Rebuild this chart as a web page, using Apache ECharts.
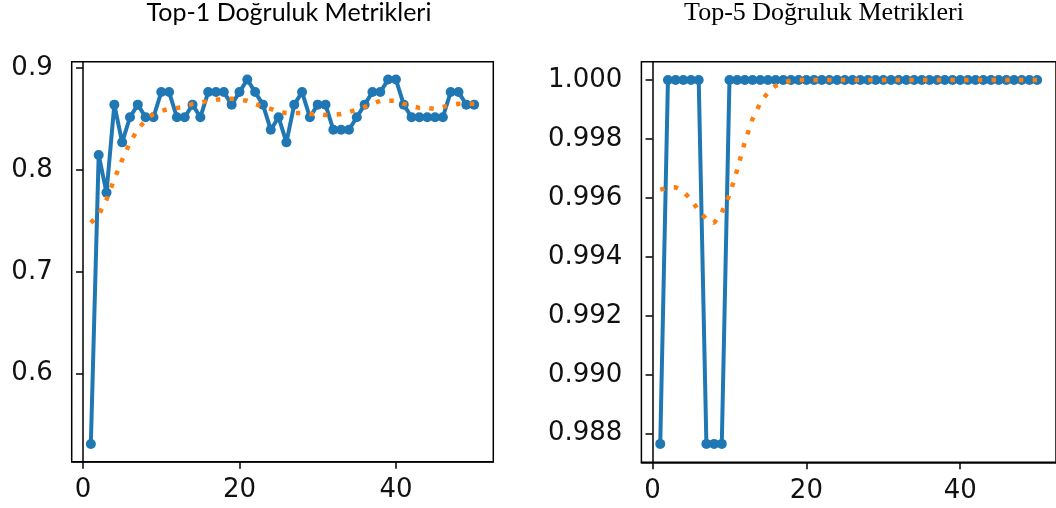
<!DOCTYPE html>
<html>
<head>
<meta charset="utf-8">
<script src="https://cdn.jsdelivr.net/npm/echarts@6/dist/echarts.min.js"></script>
<style>
html,body{margin:0;padding:0;background:#fff;}
#chart{width:1056px;height:508px;}
</style>
</head>
<body>
<div id="chart"></div>
<script>
// Epochs
const epochs = Array.from({length: 50}, (_, i) => i + 1);
// Top-1 accuracy (counts out of 81)
const top1Counts = [43,66,63,70,67,69,70,69,69,71,71,69,69,70,69,71,71,71,70,71,72,71,70,68,69,67,70,71,69,70,70,68,68,68,69,70,71,71,72,72,70,69,69,69,69,69,71,71,70,70];
const top1Values = top1Counts.map(c => c / 81);
// Top-1 smoothed (orange dotted)
const top1Smooth = [0.748,0.756,0.771,0.791,0.810,0.827,0.840,0.849,0.855,0.858,0.860,0.861,0.862,0.865,0.866,0.868,0.869,0.870,0.870,0.869,0.868,0.865,0.862,0.860,0.857,0.856,0.856,0.856,0.855,0.855,0.854,0.854,0.855,0.857,0.859,0.862,0.865,0.868,0.868,0.868,0.865,0.863,0.861,0.861,0.860,0.862,0.864,0.865,0.865,0.865];
// Top-5 accuracy
const top5Counts = [80,81,81,81,81,81,80,80,80,81,81,81,81,81,81,81,81,81,81,81,81,81,81,81,81,81,81,81,81,81,81,81,81,81,81,81,81,81,81,81,81,81,81,81,81,81,81,81,81,81];
const top5Values = top5Counts.map(c => c / 81);
// Top-5 smoothed (orange dotted)
const top5Smooth = [0.99628,0.99634,0.99636,0.99622,0.99594,0.99557,0.99528,0.99515,0.99550,0.99610,0.99695,0.99790,0.99868,0.99922,0.99958,0.99980,0.99992,0.99998,1,1,1,1,1,1,1,1,1,1,1,1,1,1,1,1,1,1,1,1,1,1,1,1,1,1,1,1,1,1,1,1];
// Tick labels
const xTicks = [0, 20, 40];
const y1Ticks = [0.6, 0.7, 0.8, 0.9];
const y2Ticks = [0.988, 0.990, 0.992, 0.994, 0.996, 0.998, 1.000];
const titles = ['Top-1 Doğruluk Metrikleri', 'Top-5 Doğruluk Metrikleri'];

const BLUE = '#1f77b4', ORANGE = '#ff7f0e';
const pair = (xs, ys) => xs.map((x, i) => [x, ys[i]]);

const labelFont = {fontFamily: 'DejaVu Sans', fontSize: 26, color: '#111'};

function xAxis(idx) {
  return {
    gridIndex: idx, type: 'value', min: -1.45, max: 52.45,
    axisLine: {show: true, lineStyle: {color: '#000', width: 1.5}},
    axisTick: {show: true, length: 7, lineStyle: {color: '#000', width: 1.5}, customValues: xTicks},
    axisLabel: Object.assign({margin: 16, customValues: xTicks, formatter: v => String(v)}, labelFont),
    splitLine: {show: false}
  };
}
function yAxis(idx, min, max, ticks, digits) {
  return {
    gridIndex: idx, type: 'value', min: min, max: max,
    axisLine: {show: true, lineStyle: {color: '#000', width: 1.5}},
    axisTick: {show: true, length: 7, lineStyle: {color: '#000', width: 1.5}, customValues: ticks},
    axisLabel: Object.assign({margin: 19, customValues: ticks, formatter: v => Number(v).toFixed(digits)}, labelFont),
    splitLine: {show: false}
  };
}

const chart = echarts.init(document.getElementById('chart'), null, {renderer: 'canvas'});
chart.setOption({
  animation: false,
  backgroundColor: '#fff',
  graphic: [
    {type: 'text', x: 289, y: 0, style: {text: titles[0], fontFamily: 'Lato', fontSize: 25, fill: '#000', textAlign: 'center', textVerticalAlign: 'top'}},
    {type: 'text', x: 824, y: 0, style: {text: titles[1], fontFamily: 'Liberation Serif', fontSize: 26, fill: '#000', textAlign: 'center', textVerticalAlign: 'top'}}
  ],
  grid: [
    {left: 71.7, right: 1056 - 493.3, top: 61.7, bottom: 508 - 461.7, show: true, borderColor: '#000', borderWidth: 1.5, backgroundColor: 'transparent'},
    {left: 641.4, right: 1056 - 1062.2, top: 61.8, bottom: 508 - 462.3, show: true, borderColor: '#000', borderWidth: 1.5, backgroundColor: 'transparent'}
  ],
  xAxis: [xAxis(0), xAxis(1)],
  yAxis: [yAxis(0, 0.5134, 0.9064, y1Ticks, 1), yAxis(1, 0.98703, 1.000617, y2Ticks, 3)],
  series: [
    {type: 'line', xAxisIndex: 0, yAxisIndex: 0, data: pair(epochs, top1Values), symbol: 'circle', symbolSize: 10, showSymbol: true,
      lineStyle: {color: BLUE, width: 4}, itemStyle: {color: BLUE}, z: 2},
    {type: 'line', xAxisIndex: 0, yAxisIndex: 0, data: pair(epochs, top1Smooth), symbol: 'none',
      lineStyle: {color: ORANGE, width: 4.5, type: [4.5, 9.2], cap: 'butt'}, z: 3},
    {type: 'line', xAxisIndex: 1, yAxisIndex: 1, data: pair(epochs, top5Values), symbol: 'circle', symbolSize: 10, showSymbol: true,
      lineStyle: {color: BLUE, width: 4}, itemStyle: {color: BLUE}, z: 2},
    {type: 'line', xAxisIndex: 1, yAxisIndex: 1, data: pair(epochs, top5Smooth), symbol: 'none',
      lineStyle: {color: ORANGE, width: 4.5, type: [4.5, 9.2], cap: 'butt'}, z: 3}
  ]
});
</script>
</body>
</html>
